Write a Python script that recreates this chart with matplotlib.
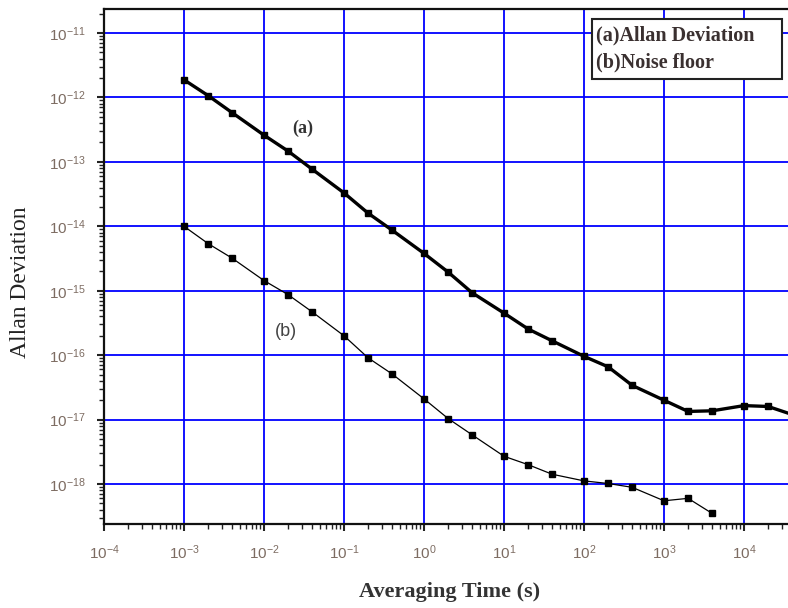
import numpy as np
import matplotlib
matplotlib.use("Agg")
import matplotlib.pyplot as plt
from matplotlib.patches import Rectangle
from matplotlib.ticker import LogLocator, FixedLocator, NullFormatter

# averaging time (s) and Allan deviation
tau_a = [1e-3, 2e-3, 4e-3, 1e-2, 2e-2, 4e-2, 0.1, 0.2, 0.4, 1, 2, 4,
         10, 20, 40, 100, 200, 400, 1000, 2000, 4000, 1e4, 2e4, 4e4]
adev_a = [1.88e-12, 1.07e-12, 5.8e-13, 2.6e-13, 1.47e-13, 7.7e-14,
          3.3e-14, 1.6e-14, 8.7e-15, 3.8e-15, 1.95e-15, 9.3e-16,
          4.5e-16, 2.55e-16, 1.67e-16, 9.6e-17, 6.6e-17, 3.4e-17,
          2.0e-17, 1.34e-17, 1.37e-17, 1.65e-17, 1.6e-17, 1.2e-17]

tau_b = [1e-3, 2e-3, 4e-3, 1e-2, 2e-2, 4e-2, 0.1, 0.2, 0.4, 1, 2, 4,
         10, 20, 40, 100, 200, 400, 1000, 2000, 4000]
adev_b = [1.0e-14, 5.4e-15, 3.2e-15, 1.44e-15, 8.7e-16, 4.7e-16,
          2.0e-16, 9.1e-17, 5.1e-17, 2.1e-17, 1.04e-17, 5.8e-18,
          2.7e-18, 2.0e-18, 1.42e-18, 1.12e-18, 1.02e-18, 8.9e-19,
          5.5e-19, 6.0e-19, 3.5e-19]

x_decades = list(range(-4, 5))
y_decades = list(range(-18, -10))

legend_lines = ["(a)Allan Deviation", "(b)Noise floor"]

plt.rcParams['mathtext.fontset'] = 'custom'
plt.rcParams['mathtext.rm'] = 'Liberation Sans'
plt.rcParams['mathtext.it'] = 'Liberation Sans'
plt.rcParams['font.family'] = ['Liberation Sans', 'DejaVu Sans']

fig = plt.figure(figsize=(7.88, 6.08), dpi=100)
ax = fig.add_axes([104/788, 84/608, 684/788, 515/608])

ax.set_xscale('log')
ax.set_yscale('log')
ax.set_xlim(1e-4, 10**4.55)
ax.set_ylim(10**-18.62, 10**-10.627)

ax.grid(True, which='major', color='#0000ff', linewidth=1.3)
ax.set_axisbelow(True)

# curve (a): thick line, curve (b): thin line
ax.plot(tau_a, adev_a, color='black', linewidth=2.4, marker='s',
        markersize=4.5, zorder=3)
ax.plot(tau_b, adev_b, color='black', linewidth=0.9, marker='s',
        markersize=4.5, zorder=3)

ax.xaxis.set_major_locator(FixedLocator([10.0**d for d in x_decades]))
ax.yaxis.set_major_locator(FixedLocator([10.0**d for d in y_decades]))
ax.set_xticklabels([r'$10^{%d}$' % d for d in x_decades])
ax.set_yticklabels([r'$10^{%d}$' % d for d in y_decades])
for axis in [ax.xaxis, ax.yaxis]:
    axis.set_minor_locator(LogLocator(base=10, subs=np.arange(2, 10), numticks=30))
    axis.set_minor_formatter(NullFormatter())

ax.tick_params(which='major', direction='out', length=5, width=1.5,
               labelsize=11, labelcolor='#7d6c62', color='#222222')
ax.tick_params(which='minor', direction='out', length=3.5, width=1.0,
               color='#222222')
ax.tick_params(axis='x', pad=9)
ax.tick_params(axis='y', pad=8)

for s in ['left', 'bottom', 'top']:
    ax.spines[s].set_linewidth(1.6)
    ax.spines[s].set_color('#111111')
ax.spines['right'].set_visible(False)

fig.text(0.026, 0.536, "Allan Deviation", rotation=90, ha='center', va='center',
         family=['Liberation Serif'], fontsize=17, color='#222222')
fig.text(0.571, 0.026, "Averaging Time (s)", ha='center', va='center',
         family=['Liberation Serif'], fontsize=16, fontweight='bold',
         color='#333333')

ax.text(0.29, 0.769, "(a)", transform=ax.transAxes, ha='center', va='center',
        family=['Liberation Serif'], fontsize=13, fontweight='bold', color='#333333')
ax.text(0.266, 0.373, "(b)", transform=ax.transAxes, ha='center', va='center',
        family=['Liberation Sans'], fontsize=13, color='#444444')

# legend box drawn as a frame with two text lines
ax.add_patch(Rectangle((0.7135, 0.864), 0.2775, 0.1166, transform=ax.transAxes,
                       facecolor='white', edgecolor='#222222', linewidth=1.5,
                       zorder=5))
ax.text(0.719, 0.922, "\n".join(legend_lines), transform=ax.transAxes,
        ha='left', va='center', family=['Liberation Serif'], fontsize=14.5,
        fontweight='bold', color='#3a3030', linespacing=1.5, zorder=6)

fig.savefig("out.png", dpi=100)
